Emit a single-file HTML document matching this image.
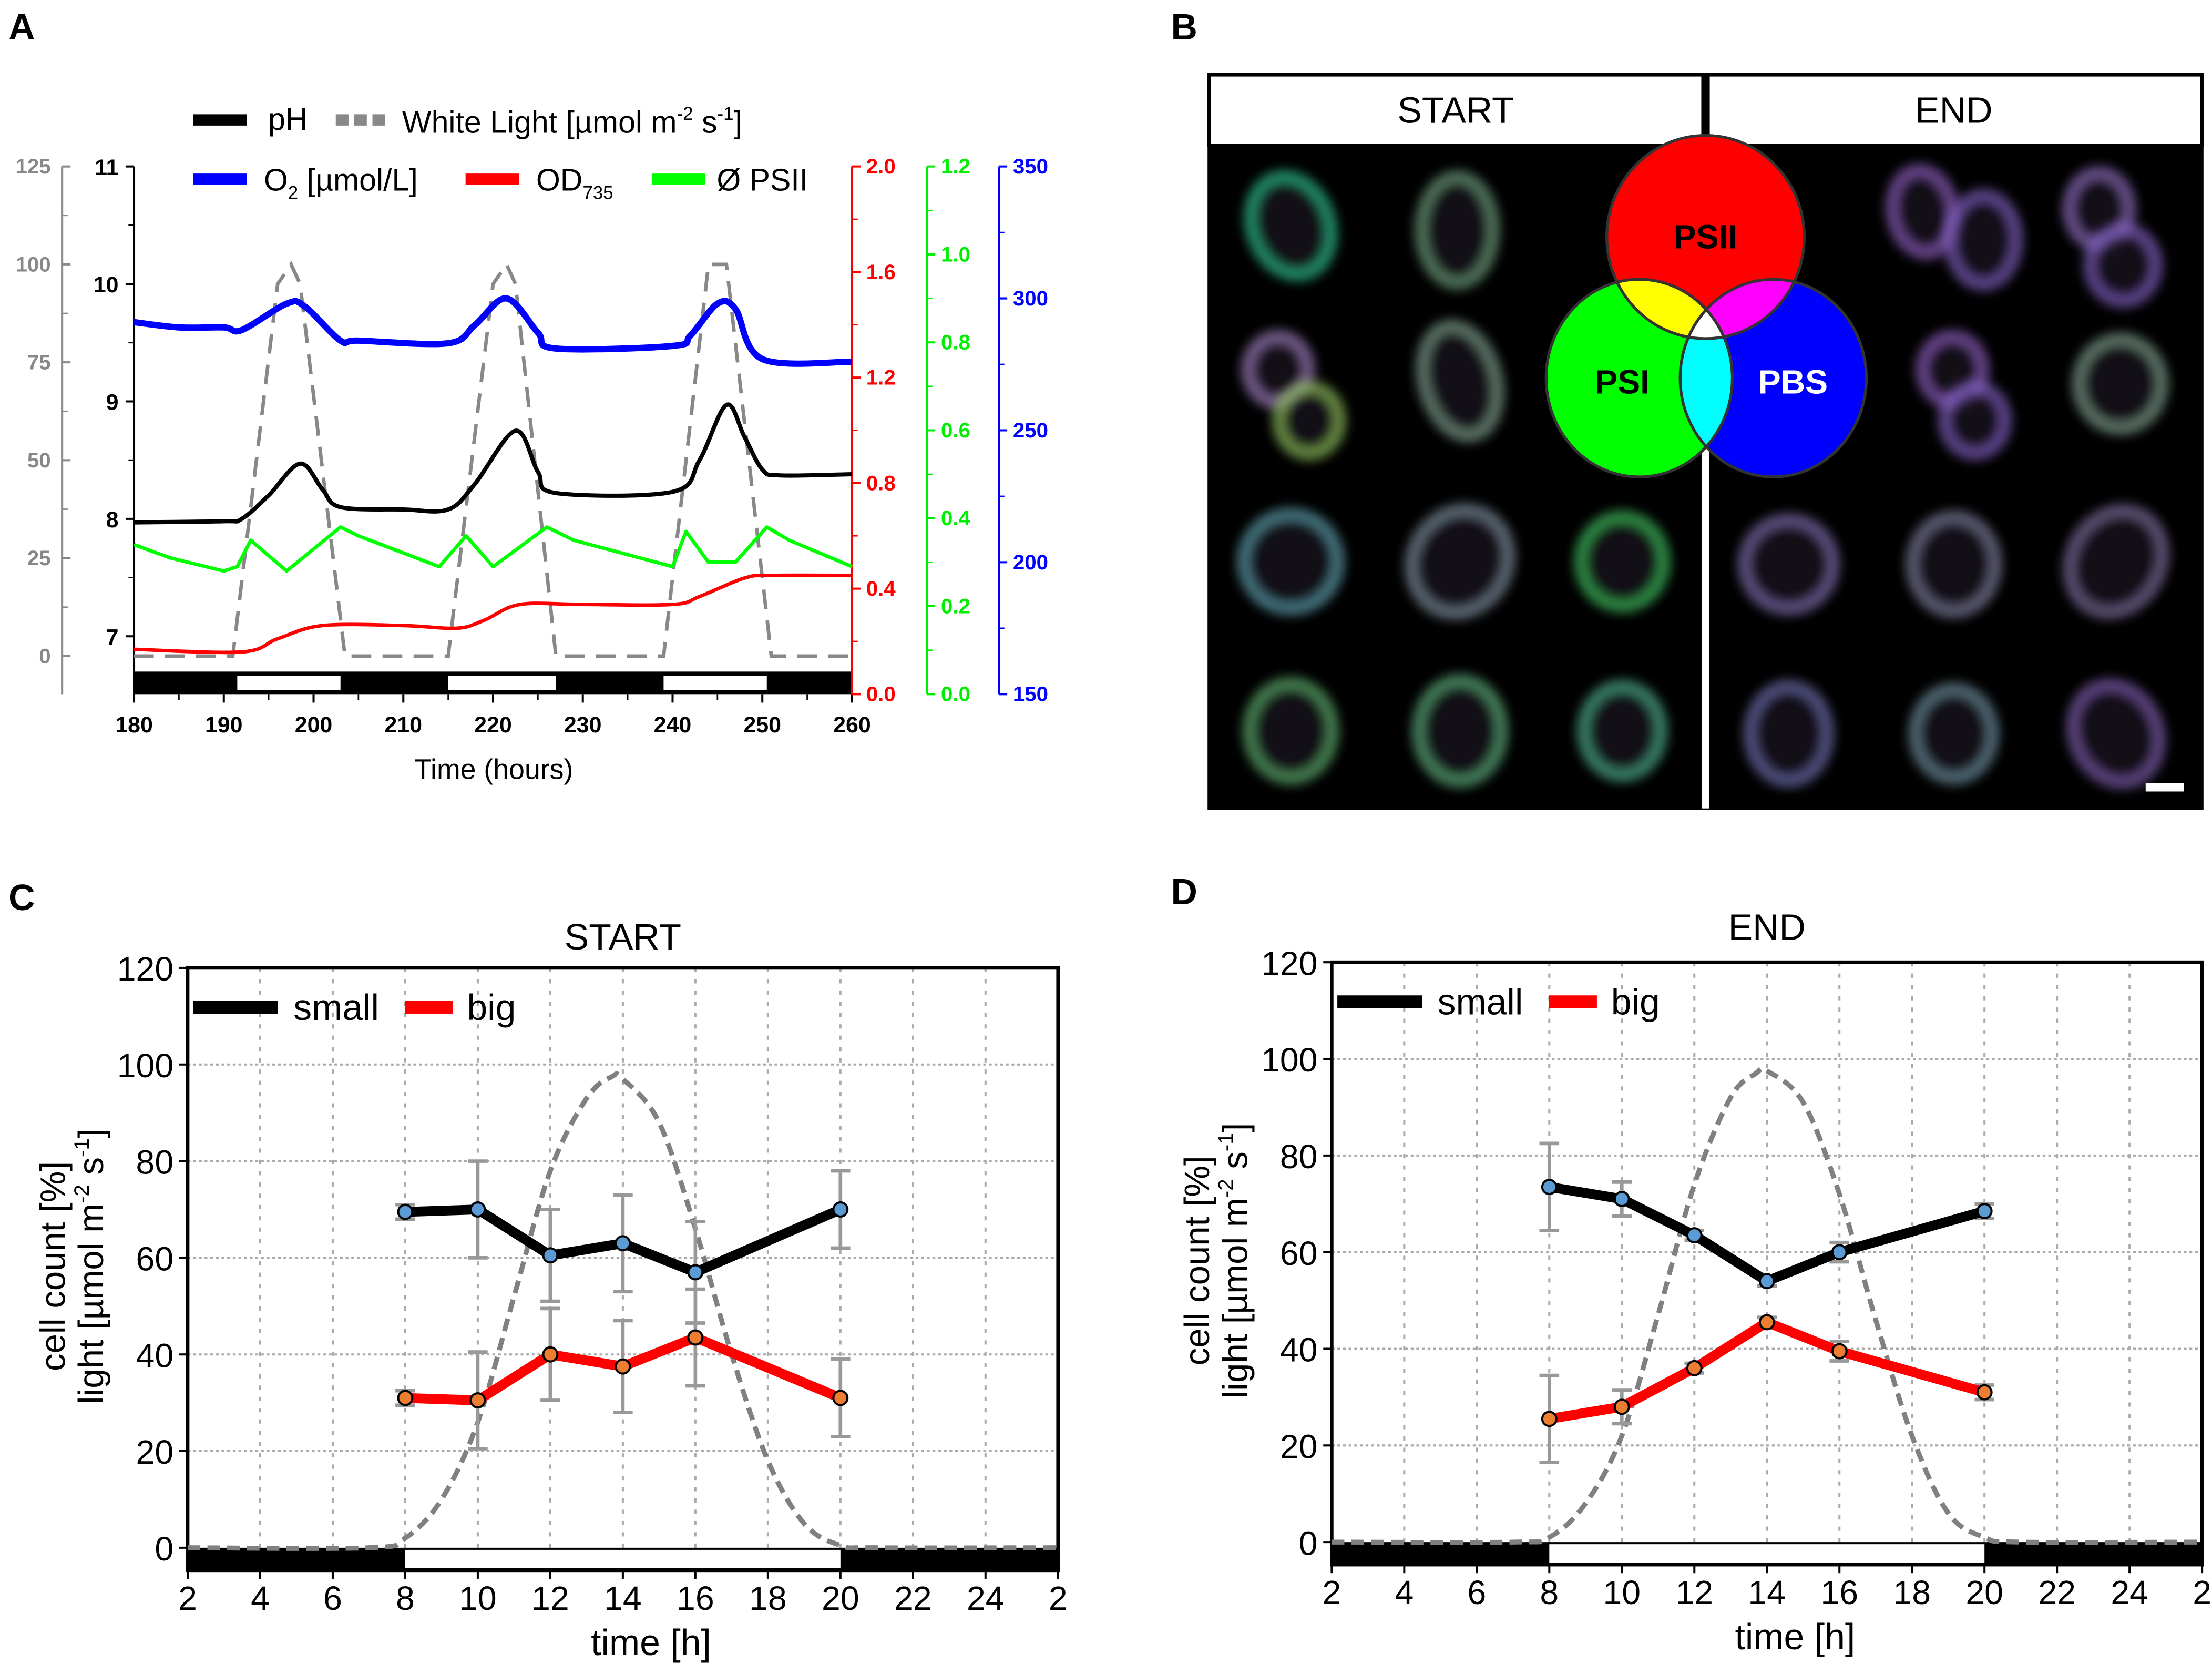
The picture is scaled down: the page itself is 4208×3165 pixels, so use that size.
<!DOCTYPE html>
<html><head><meta charset="utf-8">
<style>
html,body{margin:0;padding:0;background:#fff;}
svg{display:block;font-family:"Liberation Sans Narrow","Liberation Sans",sans-serif;}
</style></head>
<body>
<svg id="fig" xmlns="http://www.w3.org/2000/svg" width="4208" height="3165" viewBox="0 0 1568 1179.4">
<defs>
<filter id="blur" x="-50%" y="-50%" width="200%" height="200%"><feGaussianBlur stdDeviation="4"/></filter>
</defs>
<rect x="0" y="0" width="1568" height="1180" fill="#fff"/>
<text x="6" y="28" font-size="26" font-weight="bold" font-family="Liberation Sans,sans-serif">A</text>
<text x="830" y="28" font-size="26" font-weight="bold" font-family="Liberation Sans,sans-serif">B</text>
<text x="6" y="645" font-size="26" font-weight="bold" font-family="Liberation Sans,sans-serif">C</text>
<text x="830" y="641" font-size="26" font-weight="bold" font-family="Liberation Sans,sans-serif">D</text>
<g id="panelA"></g>
<g id="panelB"></g>
<g id="panelC"></g>
<g id="panelD"></g>
</svg>
<script>
// ---------- Panel A data ----------
const phT = [180,190,192,195,198.5,201,203,210,215,218,222.5,225,227,240,243,246,248,250,252,260];
const phV = [7.97,7.98,8.0,8.2,8.47,8.25,8.1,8.08,8.08,8.3,8.75,8.4,8.22,8.23,8.5,8.97,8.7,8.42,8.37,8.38];
const o2T = [180,185,190,192,197,199,203,205,215,218,221.5,225,227,240,242,245,247,250,260];
const o2V = [291,289,289,288,298,297,284,284,283,290,300,287,281,282,286,298,296,277,276];
const psT = [180,184,190,191.5,193,197,200,203,205,214,217,220,226,229,240,241.5,244,247,250.5,253,260];
const psV = [0.34,0.31,0.28,0.29,0.35,0.28,0.33,0.38,0.36,0.29,0.36,0.29,0.38,0.35,0.29,0.37,0.30,0.30,0.38,0.35,0.29];
const odT = [180,192,196,201,210,216,219,223,230,240,243,248,251,260];
const odV = [0.17,0.16,0.21,0.26,0.26,0.25,0.28,0.34,0.34,0.34,0.37,0.44,0.45,0.45];
const ltT = [180,191,196,197.5,198.5,203.5,215,220,221.5,222.5,227,239,244,246,251,260];
const ltV = [0,0,95,100,95,0,0,95,100,95,0,0,100,100,0,0];
const dayStart = [191.5,215,239];
const dayEnd = [203,227,250.5];
const xTicksA = [180,190,200,210,220,230,240,250,260];
const phTicks = [7,8,9,10,11];
const ltTicks = [0,25,50,75,100,125];
const odTicks = [0.0,0.4,0.8,1.2,1.6,2.0];
const psTicks = [0.0,0.2,0.4,0.6,0.8,1.0,1.2];
const o2Ticks = [150,200,250,300,350];

// ---------- Panels C/D data ----------
const hours = [8,10,12,14,16,20];
const startSmall = [69.5,70,60.5,63,57,70];
const startSmallErr = [1.5,10,9.5,10,10.5,8];
const startBig = [31,30.5,40,37.5,43.5,31];
const startBigErr = [1.5,10,9.5,9.5,10,8];
const endSmall = [73.5,71,63.5,54,60,68.5];
const endSmallErr = [9,3.5,1,1,2,1.5];
const endBig = [25.5,28,36,45.5,39.5,31];
const endBigErr = [9,3.5,1,1,2,1.5];
const lightH = [2,7,8,9,10,11,12,13,13.7,14,15,16,17,18,19,20,21,26];
const lightStartV = [0,0,2,10,26,52,78,93,97.5,97,88,66,40,18,5,0.5,0,0];
const lightEndV = [0,0,1,8,22,47,74,92,97,97.5,91,72,46,22,6,1,0,0];
const xTicksCD = [2,4,6,8,10,12,14,16,18,20,22,24,26];
const xTickLabelsCD = ['2','4','6','8','10','12','14','16','18','20','22','24','2'];
const yTicksCD = [0,20,40,60,80,100,120];

const NS='http://www.w3.org/2000/svg';
function mk(tag, attrs, parent){const e=document.createElementNS(NS,tag);for(const k in attrs)e.setAttribute(k,attrs[k]);parent.appendChild(e);return e;}
function txt(s, attrs, parent){const e=mk('text',attrs,parent);e.textContent=s;return e;}
function path(xs,ys,fx,fy){return xs.map((x,i)=>(i?'L':'M')+fx(x).toFixed(2)+','+fy(ys[i]).toFixed(2)).join('');}
function smooth(xs,ys,fx,fy){
 const P=xs.map((x,i)=>[fx(x),fy(ys[i])]);
 let d='M'+P[0][0].toFixed(2)+','+P[0][1].toFixed(2);
 for(let i=0;i<P.length-1;i++){
  const p0=P[Math.max(0,i-1)],p1=P[i],p2=P[i+1],p3=P[Math.min(P.length-1,i+2)];
  const c1=[p1[0]+(p2[0]-p0[0])/6,p1[1]+(p2[1]-p0[1])/6];
  const c2=[p2[0]-(p3[0]-p1[0])/6,p2[1]-(p3[1]-p1[1])/6];
  d+=`C${c1[0].toFixed(2)},${c1[1].toFixed(2)} ${c2[0].toFixed(2)},${c2[1].toFixed(2)} ${p2[0].toFixed(2)},${p2[1].toFixed(2)}`;
 }
 return d;
}

// ===== Panel A =====
(function(){
 const g=document.getElementById('panelA');
 const X=t=>95+(t-180)/80*509;
 const Yph=v=>451-(v-7)*83.25;
 const Ylt=v=>465-v*2.776;
 const Yod=v=>492-v/2*374;
 const Yps=v=>492-v/1.2*374;
 const Yo2=v=>492-(v-150)/200*374;
 let e=mk('rect',{x:95,y:476,width:509,height:16,fill:'#000'},g);
 
 
 dayStart.forEach((s,i)=>{
  const r=mk('rect',{x:X(s),y:479,width:X(dayEnd[i])-X(s),height:10,fill:'#fff'},g);
  
  
 });
 e=mk('line',{x1:44,y1:118,x2:44,y2:492,stroke:'#888','stroke-width':1.5},g);
 
 
 ltTicks.forEach((v,i)=>{
  mk('line',{x1:44,x2:50,y1:Ylt(v),y2:Ylt(v),stroke:'#888','stroke-width':1.5},g);
  if(i<ltTicks.length-1)mk('line',{x1:44,x2:48,y1:Ylt(v+12.5),y2:Ylt(v+12.5),stroke:'#888','stroke-width':1},g);
  const t=txt(String(v),{x:36,y:Ylt(v)+5,'text-anchor':'end','font-size':15,fill:'#888','font-weight':'bold'},g);
  
  
 });
 e=mk('line',{x1:95,y1:118,x2:95,y2:492,stroke:'#000','stroke-width':1.5},g);
 
 
 phTicks.forEach(v=>{
  mk('line',{x1:89,x2:95,y1:Yph(v),y2:Yph(v),stroke:'#000','stroke-width':1.5},g);
  if(v<11)mk('line',{x1:91,x2:95,y1:Yph(v+0.5),y2:Yph(v+0.5),stroke:'#000','stroke-width':1},g);
  const t=txt(String(v),{x:84,y:Yph(v)+6,'text-anchor':'end','font-size':16,fill:'#000','font-weight':'bold'},g);
  
  
 });
 xTicksA.forEach(v=>{
  mk('line',{x1:X(v),x2:X(v),y1:492,y2:498,stroke:'#000','stroke-width':1.5},g);
  if(v<260)mk('line',{x1:X(v+5),x2:X(v+5),y1:492,y2:496,stroke:'#000','stroke-width':1},g);
  const t=txt(String(v),{x:X(v),y:519,'text-anchor':'middle','font-size':16,'font-weight':'bold'},g);
  
  
 });
 e=txt('Time (hours)',{x:350,y:552,'text-anchor':'middle','font-size':20},g);
 
 
 const axes=[[604,'#f00',odTicks,Yod,0.2,'od-axis'],[657,'#0e0',psTicks,Yps,0.1,'psii-axis'],[708,'#00f',o2Ticks,Yo2,25,'o2-axis']];
 axes.forEach(a=>{
  const [ax,col,ticks,fy,minor,nm]=a;
  const l=mk('line',{x1:ax,y1:118,x2:ax,y2:492,stroke:col,'stroke-width':1.5},g);
  
  
  ticks.forEach((v,i)=>{
   mk('line',{x1:ax,x2:ax+6,y1:fy(v),y2:fy(v),stroke:col,'stroke-width':1.5},g);
   if(i<ticks.length-1)mk('line',{x1:ax,x2:ax+4,y1:fy(v+minor),y2:fy(v+minor),stroke:col,'stroke-width':1},g);
   const t=txt(nm==='o2-axis'?String(v):v.toFixed(1),{x:ax+10,y:fy(v)+5,'font-size':15,fill:col,'font-weight':'bold'},g);
   
   
  });
 });
 e=mk('path',{d:path(ltT,ltV,X,Ylt),fill:'none',stroke:'#888','stroke-width':2.5,'stroke-dasharray':'14,8'},g);
 
 
 e=mk('path',{d:smooth(o2T,o2V,X,Yo2),fill:'none',stroke:'#00f','stroke-width':4.5,'stroke-linejoin':'round'},g);
 
 
 e=mk('path',{d:smooth(phT,phV,X,Yph),fill:'none',stroke:'#000','stroke-width':3,'stroke-linejoin':'round'},g);
 
 
 e=mk('path',{d:path(psT,psV,X,Yps),fill:'none',stroke:'#0f0','stroke-width':2.5,'stroke-linejoin':'round'},g);
 
 
 e=mk('path',{d:smooth(odT,odV,X,Yod),fill:'none',stroke:'#f00','stroke-width':2.5,'stroke-linejoin':'round'},g);
 
 
 const lg=mk('g',{},g);
 
 
 mk('line',{x1:137,x2:175,y1:85,y2:85,stroke:'#000','stroke-width':8},lg);
 txt('pH',{x:190,y:92,'font-size':22},lg);
 mk('line',{x1:238,x2:274,y1:85,y2:85,stroke:'#888','stroke-width':8,'stroke-dasharray':'9,4'},lg);
 const wl=txt('',{x:285,y:94,'font-size':22},lg);
 wl.innerHTML='White Light [µmol m<tspan dy="-9" font-size="13">-2</tspan><tspan dy="9"> s</tspan><tspan dy="-9" font-size="13">-1</tspan><tspan dy="9">]</tspan>';
 mk('line',{x1:137,x2:175,y1:127,y2:127,stroke:'#00f','stroke-width':8},lg);
 const o2=txt('',{x:187,y:135,'font-size':22},lg);
 o2.innerHTML='O<tspan dy="6" font-size="13">2</tspan><tspan dy="-6"> [µmol/L]</tspan>';
 mk('line',{x1:330,x2:368,y1:127,y2:127,stroke:'#f00','stroke-width':8},lg);
 const od=txt('',{x:380,y:135,'font-size':22},lg);
 od.innerHTML='OD<tspan dy="6" font-size="13">735</tspan>';
 mk('line',{x1:462,x2:500,y1:127,y2:127,stroke:'#0f0','stroke-width':8},lg);
 txt('Ø PSII',{x:508,y:135,'font-size':22},lg);
})();

// ===== Panel B =====
(function(){
 const g=document.getElementById('panelB');
 let e=mk('rect',{x:856,y:103,width:706,height:471,fill:'#000'},g);
 
 
 e=mk('rect',{x:857,y:53,width:704,height:50,fill:'#fff',stroke:'#000','stroke-width':2.5},g);
 
 
 mk('rect',{x:1206,y:53,width:6,height:50,fill:'#000'},g);
 mk('rect',{x:1206.5,y:103,width:5,height:470,fill:'#fff'},g);
 e=txt('START',{x:1032,y:87,'text-anchor':'middle','font-size':26},g);
 
 
 e=txt('END',{x:1385,y:87,'text-anchor':'middle','font-size':26},g);
 
 
 const cells=[
  [915,160,28,36,-20,'#3c9',0],[1033,163,26,38,0,'#7a8',0],
  [1363,150,22,30,-10,'#96c',0],[1406,170,24,32,0,'#86c',0],[1488,148,22,26,0,'#97c',0],[1505,188,24,26,0,'#86c',0],
  [906,262,22,24,0,'#a8c',0],[928,298,22,24,0,'#9c6',0],[1035,270,26,40,-15,'#8a9',0],
  [1384,262,22,24,0,'#96c',0],[1400,298,22,24,0,'#86c',0],[1503,272,30,32,0,'#8a9',0],
  [915,398,34,34,0,'#6ab',0],[1035,398,34,38,30,'#89a',0],[1150,398,30,32,0,'#4c6',0],
  [1268,400,32,32,0,'#87b',0],[1385,400,30,34,0,'#88a',0],[1500,398,32,38,30,'#87a',0],
  [915,518,30,34,0,'#6b7',0],[1035,518,30,36,0,'#6b8',0],[1150,518,28,32,0,'#5b9',0],
  [1268,520,28,34,0,'#77b',0],[1385,520,28,32,0,'#79a',0],[1500,520,30,36,-25,'#86b',0]
 ];
 cells.forEach(c=>{
  const el=mk('ellipse',{cx:c[0],cy:c[1],rx:c[2],ry:c[3],transform:`rotate(${c[4]} ${c[0]} ${c[1]})`,fill:'#1a1424',stroke:c[5],'stroke-width':8,filter:'url(#blur)',opacity:0.7},g);
  
  
 });
 e=mk('rect',{x:1521,y:555,width:27,height:6,fill:'#fff'},g);
 
 
 const vg=mk('g',{style:'isolation:isolate'},g);
 
 
 const circ=[[1209,168,70,72,'#f00','psii-circle'],[1162,268,66,70,'#0f0','psi-circle'],[1257,268,66,70,'#00f','pbs-circle']];
 circ.forEach(c=>{
  const el=mk('ellipse',{cx:c[0],cy:c[1],rx:c[2],ry:c[3],fill:c[4],style:'mix-blend-mode:screen'},vg);
  
  
 });
 circ.forEach(c=>{mk('ellipse',{cx:c[0],cy:c[1],rx:c[2],ry:c[3],fill:'none',stroke:'#333','stroke-width':2},g);});
 e=txt('PSII',{x:1209,y:176,'text-anchor':'middle','font-size':24,'font-weight':'bold'},g);
 
 
 e=txt('PSI',{x:1150,y:279,'text-anchor':'middle','font-size':24,'font-weight':'bold'},g);
 
 
 e=txt('PBS',{x:1271,y:279,'text-anchor':'middle','font-size':24,'font-weight':'bold',fill:'#fff'},g);
 
 
})();

// ===== Panels C & D =====
function lineChart(id, title, x0, x1, y120, y0, titleY, small, smallErr, big, bigErr, lightV){
 const g=document.getElementById(id);
 const X=h=>x0+(h-2)/24*(x1-x0);
 const Y=v=>y0-v/120*(y0-y120);
 xTicksCD.forEach(h=>{
  if(h>2&&h<26){const l=mk('line',{x1:X(h),x2:X(h),y1:y120,y2:y0,stroke:'#aaa','stroke-width':1.5,'stroke-dasharray':'3,5'},g);
  
  }
 });
 yTicksCD.forEach(v=>{
  if(v>0&&v<120){const l=mk('line',{x1:x0,x2:x1,y1:Y(v),y2:Y(v),stroke:'#aaa','stroke-width':1.5,'stroke-dasharray':'2,2'},g);
  
  }
 });
 let e=mk('rect',{x:x0,y:y0,width:x1-x0,height:16,fill:'#000'},g);
 
 
 e=mk('rect',{x:X(8),y:y0+1.5,width:X(20)-X(8),height:13,fill:'#fff'},g);
 
 
 e=mk('rect',{x:x0,y:y120,width:x1-x0,height:y0+16-y120,fill:'none',stroke:'#000','stroke-width':2.5},g);
 
 
 xTicksCD.forEach((h,i)=>{
  mk('line',{x1:X(h),x2:X(h),y1:y0+16,y2:y0+22,stroke:'#000','stroke-width':1.5},g);
  const t=txt(xTickLabelsCD[i],{x:X(h),y:y0+44,'text-anchor':'middle','font-size':24},g);
  
  
 });
 yTicksCD.forEach(v=>{
  mk('line',{x1:x0-6,x2:x0,y1:Y(v),y2:Y(v),stroke:'#000','stroke-width':1.5},g);
  const t=txt(String(v),{x:x0-10,y:Y(v)+9,'text-anchor':'end','font-size':24},g);
  
  
 });
 e=txt('time [h]',{x:(x0+x1)/2+20,y:y0+76,'text-anchor':'middle','font-size':26},g);
 
 
 e=txt(title,{x:(x0+x1)/2,y:titleY,'text-anchor':'middle','font-size':26},g);
 
 
 const ym=(y120+y0)/2+6;
 e=txt('cell count [%]',{x:x0-87,y:ym,'text-anchor':'middle','font-size':25,'font-family':'Liberation Sans,sans-serif',transform:`rotate(-90 ${x0-87} ${ym})`},g);
 
 
 e=txt('',{x:x0-60,y:ym,'text-anchor':'middle','font-size':25,'font-family':'Liberation Sans,sans-serif',transform:`rotate(-90 ${x0-60} ${ym})`},g);
 e.innerHTML='light [µmol m<tspan dy="-10" font-size="15">-2</tspan><tspan dy="10"> s</tspan><tspan dy="-10" font-size="15">-1</tspan><tspan dy="10">]</tspan>';
 
 
 e=mk('path',{d:smooth(lightH,lightV,X,Y),fill:'none',stroke:'#808080','stroke-width':3.5,'stroke-dasharray':'9,5'},g);
 
 
 [[small,smallErr],[big,bigErr]].forEach(s=>{
  hours.forEach((h,i)=>{
   const eb=mk('path',{d:`M${X(h)},${Y(s[0][i]-s[1][i])}V${Y(s[0][i]+s[1][i])}M${X(h)-7},${Y(s[0][i]-s[1][i])}h14M${X(h)-7},${Y(s[0][i]+s[1][i])}h14`,stroke:'#999','stroke-width':2.5,fill:'none'},g);
   
   
  });
 });
 e=mk('path',{d:path(hours,small,X,Y),fill:'none',stroke:'#000','stroke-width':7,'stroke-linejoin':'round'},g);
 
 
 e=mk('path',{d:path(hours,big,X,Y),fill:'none',stroke:'#f00','stroke-width':7,'stroke-linejoin':'round'},g);
 
 
 hours.forEach((h,i)=>{
  const p=mk('circle',{cx:X(h),cy:Y(small[i]),r:5,fill:'#5b9bd5',stroke:'#000','stroke-width':1.5},g);
  
  
  const q=mk('circle',{cx:X(h),cy:Y(big[i]),r:5,fill:'#ed7d31',stroke:'#000','stroke-width':1.5},g);
  
  
 });
 const lg=mk('g',{},g);
 
 
 const ly=y120+28;
 mk('line',{x1:x0+4,x2:x0+64,y1:ly,y2:ly,stroke:'#000','stroke-width':9},lg);
 txt('small',{x:x0+75,y:ly+9,'font-size':26},lg);
 mk('line',{x1:x0+154,x2:x0+188,y1:ly,y2:ly,stroke:'#f00','stroke-width':9},lg);
 txt('big',{x:x0+198,y:ly+9,'font-size':26},lg);
}
lineChart('panelC','START',133,750,686,1097,673,startSmall,startSmallErr,startBig,startBigErr,lightStartV);
lineChart('panelD','END',944,1561,682,1093,666,endSmall,endSmallErr,endBig,endBigErr,lightEndV);
</script>
</body></html>
